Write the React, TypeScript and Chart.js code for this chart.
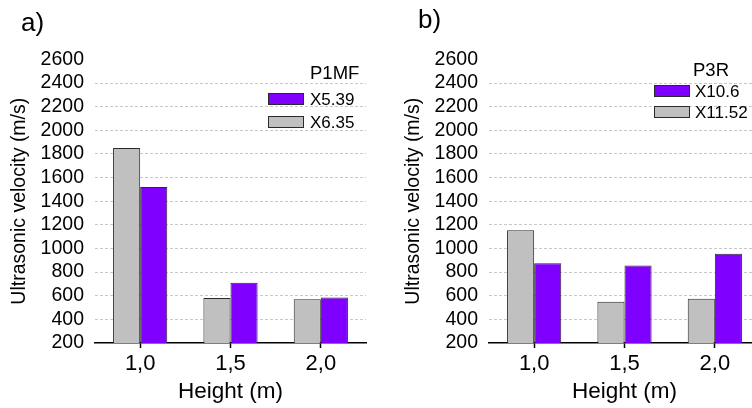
import React, { useEffect, useRef } from "react";
import { Chart, registerables } from "chart.js";

Chart.register(...registerables);

// ---- data ----
const categories = ["1,0", "1,5", "2,0"];

const panelALabel = "a)";
const panelATitle = "P1MF";
const panelASeriesNames = ["X6.35", "X5.39"];
const panelAGray = [1850, 580, 570];
const panelAPurple = [1520, 710, 585];

const panelBLabel = "b)";
const panelBTitle = "P3R";
const panelBSeriesNames = ["X11.52", "X10.6"];
const panelBGray = [1155, 550, 575];
const panelBPurple = [875, 855, 955];

const yMin = 200;
const yMax = 2600;
const yStep = 200;

const xTitle = "Height (m)";
const yTitle = "Ultrasonic velocity (m/s)";

// ---- styles ----
const FONT = "'Liberation Sans', Arial, Helvetica, sans-serif";
const GRAY = "#c0c0c0";
const PURPLE = "#8000ff";
const BAR_BORDER = "#2a2a2a";

const insideLegend = {
  id: "insideLegend",
  afterDraw(chart: any, _args: any, opts: any) {
    const { ctx, chartArea } = chart;
    ctx.save();
    // panel label
    ctx.font = `26px ${FONT}`;
    ctx.fillStyle = "#000";
    ctx.textAlign = "left";
    ctx.textBaseline = "alphabetic";
    ctx.fillText(opts.panel, opts.panelX, opts.panelY);
    // legend title
    ctx.font = `18.5px ${FONT}`;
    ctx.textBaseline = "middle";
    ctx.fillText(opts.title, chartArea.right + opts.titleDx, chartArea.top + opts.titleDy);
    // items (reverse order of datasets)
    const ds = chart.data.datasets.slice().reverse();
    ctx.font = `17px ${FONT}`;
    ds.forEach((d: any, i: number) => {
      const y = chartArea.top + opts.rowDy + i * opts.rowGap;
      const x = chartArea.right + opts.boxDx;
      ctx.fillStyle = d.backgroundColor;
      ctx.fillRect(x, y - 6, 36, 12);
      ctx.strokeStyle = BAR_BORDER;
      ctx.lineWidth = 1;
      ctx.strokeRect(x + 0.5, y - 6 + 0.5, 35, 11);
      ctx.fillStyle = "#000";
      ctx.fillText(d.label, x + opts.textGap, y + 1);
    });
    ctx.restore();
  },
};

type PanelProps = {
  left: number;
  panel: string;
  title: string;
  names: string[];
  gray: number[];
  purple: number[];
  legend: any;
};

function Panel({ left, panel, title, names, gray, purple, legend }: PanelProps) {
  const ref = useRef<HTMLCanvasElement>(null);
  useEffect(() => {
    if (!ref.current) return;
    const chart = new Chart(ref.current, {
      type: "bar",
      data: {
        labels: categories,
        datasets: [
          {
            label: names[0],
            data: gray,
            backgroundColor: GRAY,
            borderColor: BAR_BORDER,
            borderWidth: 1,
          },
          {
            label: names[1],
            data: purple,
            backgroundColor: PURPLE,
            borderColor: BAR_BORDER,
            borderWidth: 1,
          },
        ],
      },
      options: {
        responsive: false,
        animation: false,
        events: [],
        layout: { padding: { top: 59.4, left: 0, right: 28, bottom: 0 } },
        datasets: { bar: { categoryPercentage: 0.6, barPercentage: 1.0 } },
        plugins: {
          legend: { display: false },
          tooltip: { enabled: false },
          insideLegend: { panel, title, ...legend },
        } as any,
        scales: {
          x: {
            afterFit: (s: any) => {
              s.height = 65;
            },
            grid: {
              display: true,
              drawOnChartArea: false,
              drawTicks: true,
              tickLength: 5,
              tickColor: "#000",
              tickWidth: 1.5,
              offset: false,
            },
            border: { display: true, color: "#000", width: 1.5 },
            ticks: {
              color: "#000",
              font: { family: FONT, size: 22 },
              padding: 3,
              autoSkip: false,
              maxRotation: 0,
            },
            title: {
              display: true,
              text: xTitle,
              color: "#000",
              font: { family: FONT, size: 22.5 },
              padding: { top: 0, bottom: 2.5 },
            },
          },
          y: {
            min: yMin,
            max: yMax,
            afterFit: (s: any) => {
              s.width = 95;
            },
            grid: {
              drawTicks: false,
              lineWidth: 1,
              color: (c: any) =>
                c.tick && (c.tick.value === yMin || c.tick.value === yMax)
                  ? "rgba(0,0,0,0)"
                  : "#c8c8c8",
            },
            border: { display: false, dash: [3, 2] },
            ticks: {
              stepSize: yStep,
              color: "#000",
              font: { family: FONT, size: 19.5 },
              padding: 11,
              autoSkip: false,
              callback: (v: any) => String(v),
            },
            title: {
              display: true,
              text: yTitle,
              color: "#000",
              font: { family: FONT, size: 19.5 },
              padding: { top: 8, bottom: 0 },
            },
          },
        },
      } as any,
      plugins: [insideLegend as any],
    });
    return () => chart.destroy();
  }, []);
  return (
    <div style={{ position: "absolute", left, top: 0, width: 394, height: 408 }}>
      <canvas ref={ref} width={394} height={408} style={{ display: "block" }} />
    </div>
  );
}

export default function App() {
  return (
    <div
      style={{
        position: "fixed",
        left: 0,
        top: 0,
        width: 752,
        height: 408,
        overflow: "hidden",
        background: "#fff",
      }}
    >
      <Panel
        left={0}
        panel={panelALabel}
        title={panelATitle}
        names={panelASeriesNames}
        gray={panelAGray}
        purple={panelAPurple}
        legend={{
          panelX: 21,
          panelY: 31,
          titleDx: -56,
          titleDy: 14.6,
          boxDx: -98,
          rowDy: 39.6,
          rowGap: 23,
          textGap: 42,
        }}
      />
      <Panel
        left={394}
        panel={panelBLabel}
        title={panelBTitle}
        names={panelBSeriesNames}
        gray={panelBGray}
        purple={panelBPurple}
        legend={{
          panelX: 24,
          panelY: 28,
          titleDx: -67,
          titleDy: 12,
          boxDx: -106,
          rowDy: 31.6,
          rowGap: 21,
          textGap: 41,
        }}
      />
    </div>
  );
}
